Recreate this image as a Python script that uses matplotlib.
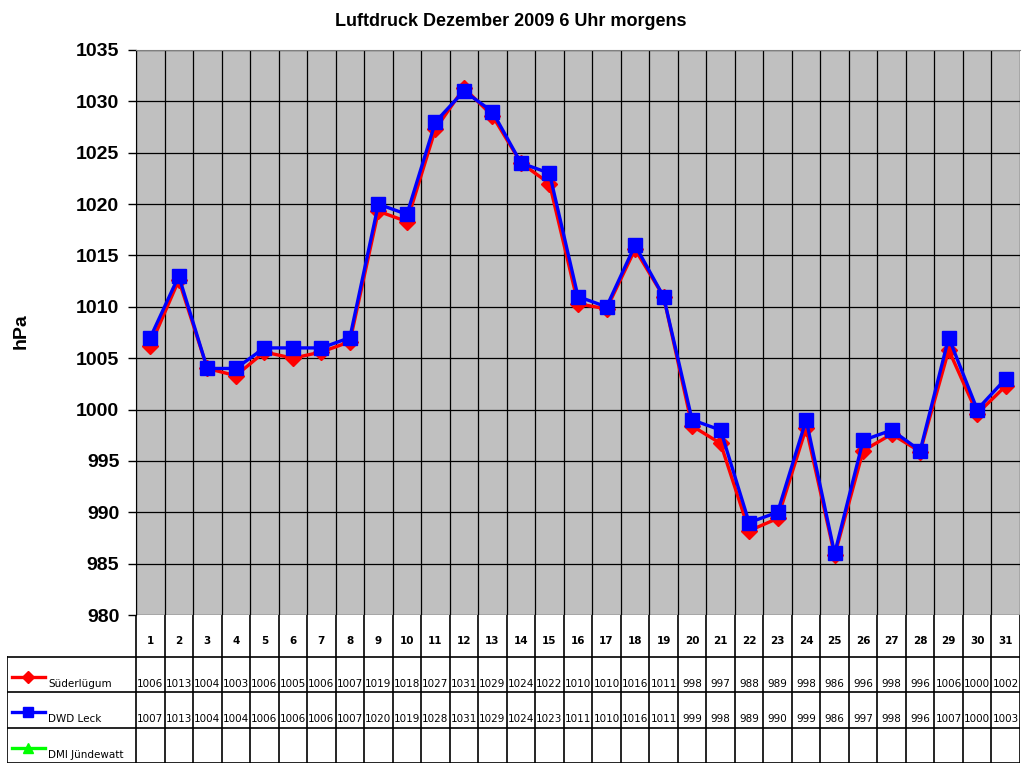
import numpy as np
import matplotlib.pyplot as plt

# Daten: Luftdruck Dezember 2009, 6 Uhr morgens
days = list(range(1, 32))
suederluegum = [1006.2, 1012.6, 1004.0, 1003.3, 1005.6, 1005.0, 1005.6, 1006.6, 1019.3, 1018.3,
                1027.3, 1031.3, 1028.6, 1024.0, 1022.0, 1010.3, 1009.8, 1015.6, 1011.0, 998.4,
                996.7, 988.2, 989.4, 998.2, 985.8, 996.0, 997.6, 995.9, 1005.8, 999.6, 1002.3]
dwd_leck = [1007, 1013, 1004, 1004, 1006, 1006, 1006, 1007, 1020, 1019,
            1028, 1031, 1029, 1024, 1023, 1011, 1010, 1016, 1011, 999,
            998, 989, 990, 999, 986, 997, 998, 996, 1007, 1000, 1003]
dmi_juendewatt = [None] * 31
series_names = ["Süderlügum", "DWD Leck", "DMI Jündewatt"]
y_ticks = [980, 985, 990, 995, 1000, 1005, 1010, 1015, 1020, 1025, 1030, 1035]

W, H = 1024, 768
fig = plt.figure(figsize=(W / 100, H / 100), dpi=100)


def fx(px):
    return px / W


def fy(py):
    return 1 - py / H


# Hauptdiagramm
left, right, top, bottom = 136, 1020, 50, 615
ax = fig.add_axes([fx(left), fy(bottom), fx(right - left), fy(top) - fy(bottom)])
ax.set_facecolor("#C0C0C0")
ax.set_xlim(0.5, 31.5)
ax.set_ylim(980, 1035)
ax.set_yticks(y_ticks)
ax.set_yticklabels([str(t) for t in y_ticks], fontsize=14, fontweight="bold",
                   family="Liberation Sans")
ax.set_xticks([])
for k in range(32):
    ax.axvline(k + 0.5, color="black", lw=0.9, zorder=1)
for t in y_ticks:
    ax.axhline(t, color="black", lw=0.9, zorder=1)
ax.tick_params(axis="y", length=6, width=1, direction="out", pad=6)
ax.spines["top"].set_color("#808080")
ax.spines["right"].set_visible(False)
ax.spines["bottom"].set_visible(False)
fig.text(fx(21), fy(331), "hPa", rotation=90, ha="center", va="center",
         fontsize=14, fontweight="bold", family="Liberation Sans")

ax.plot(days, suederluegum, color="#FF0000", lw=2.4, marker="D", markersize=8,
        zorder=3, clip_on=False)
ax.plot(days, dwd_leck, color="#0000FF", lw=2.4, marker="s", markersize=10,
        zorder=4, clip_on=False)

fig.text(fx(511), fy(21), "Luftdruck Dezember 2009 6 Uhr morgens", ha="center", va="center",
         fontsize=13, fontweight="bold", family="Liberation Sans")

# Datentabelle
tl, tr, tt, tb = 7, 1020, 615, 763
colw = (right - left) / 31
tax = fig.add_axes([fx(tl), fy(tb), fx(tr - tl), fy(tt) - fy(tb)])
tax.set_xlim(0.5 - (left - tl) / colw, 31.5)
tax.set_ylim(tb, tt)
tax.axis("off")

row_lines = [657, 692, 728, 763]
x0 = 0.5 - (left - tl) / colw
for k in range(32):
    tax.plot([k + 0.5, k + 0.5], [tt, tb], color="black", lw=1.2)
for r in row_lines:
    tax.plot([x0, 31.5], [r, r], color="black", lw=1.2)
tax.plot([x0, x0], [row_lines[0], tb], color="black", lw=1.2)

for d in days:
    tax.text(d, 641, str(d), ha="center", va="center", fontsize=7.5, fontweight="bold")

rows = [suederluegum, dwd_leck, dmi_juendewatt]
styles = [("#FF0000", "D", 6), ("#0000FF", "s", 7), ("#00FF00", "^", 7)]
for i, (vals, name, (c, m, ms)) in enumerate(zip(rows, series_names, styles)):
    ty = row_lines[i] + 27
    for d, v in zip(days, vals):
        if v is not None:
            tax.text(d, ty, f"{v:.0f}", ha="center", va="center", fontsize=7.5)
    lx = x0 + (12 - tl) / colw
    rx = x0 + (45 - tl) / colw
    tax.plot([lx, rx], [ty - 7, ty - 7], color=c, lw=2.4)
    tax.plot([(lx + rx) / 2], [ty - 7], color=c, marker=m, markersize=ms)
    tax.text(x0 + (48 - tl) / colw, ty, name, ha="left", va="center", fontsize=7.5)

fig.savefig("out.png", dpi=100)
